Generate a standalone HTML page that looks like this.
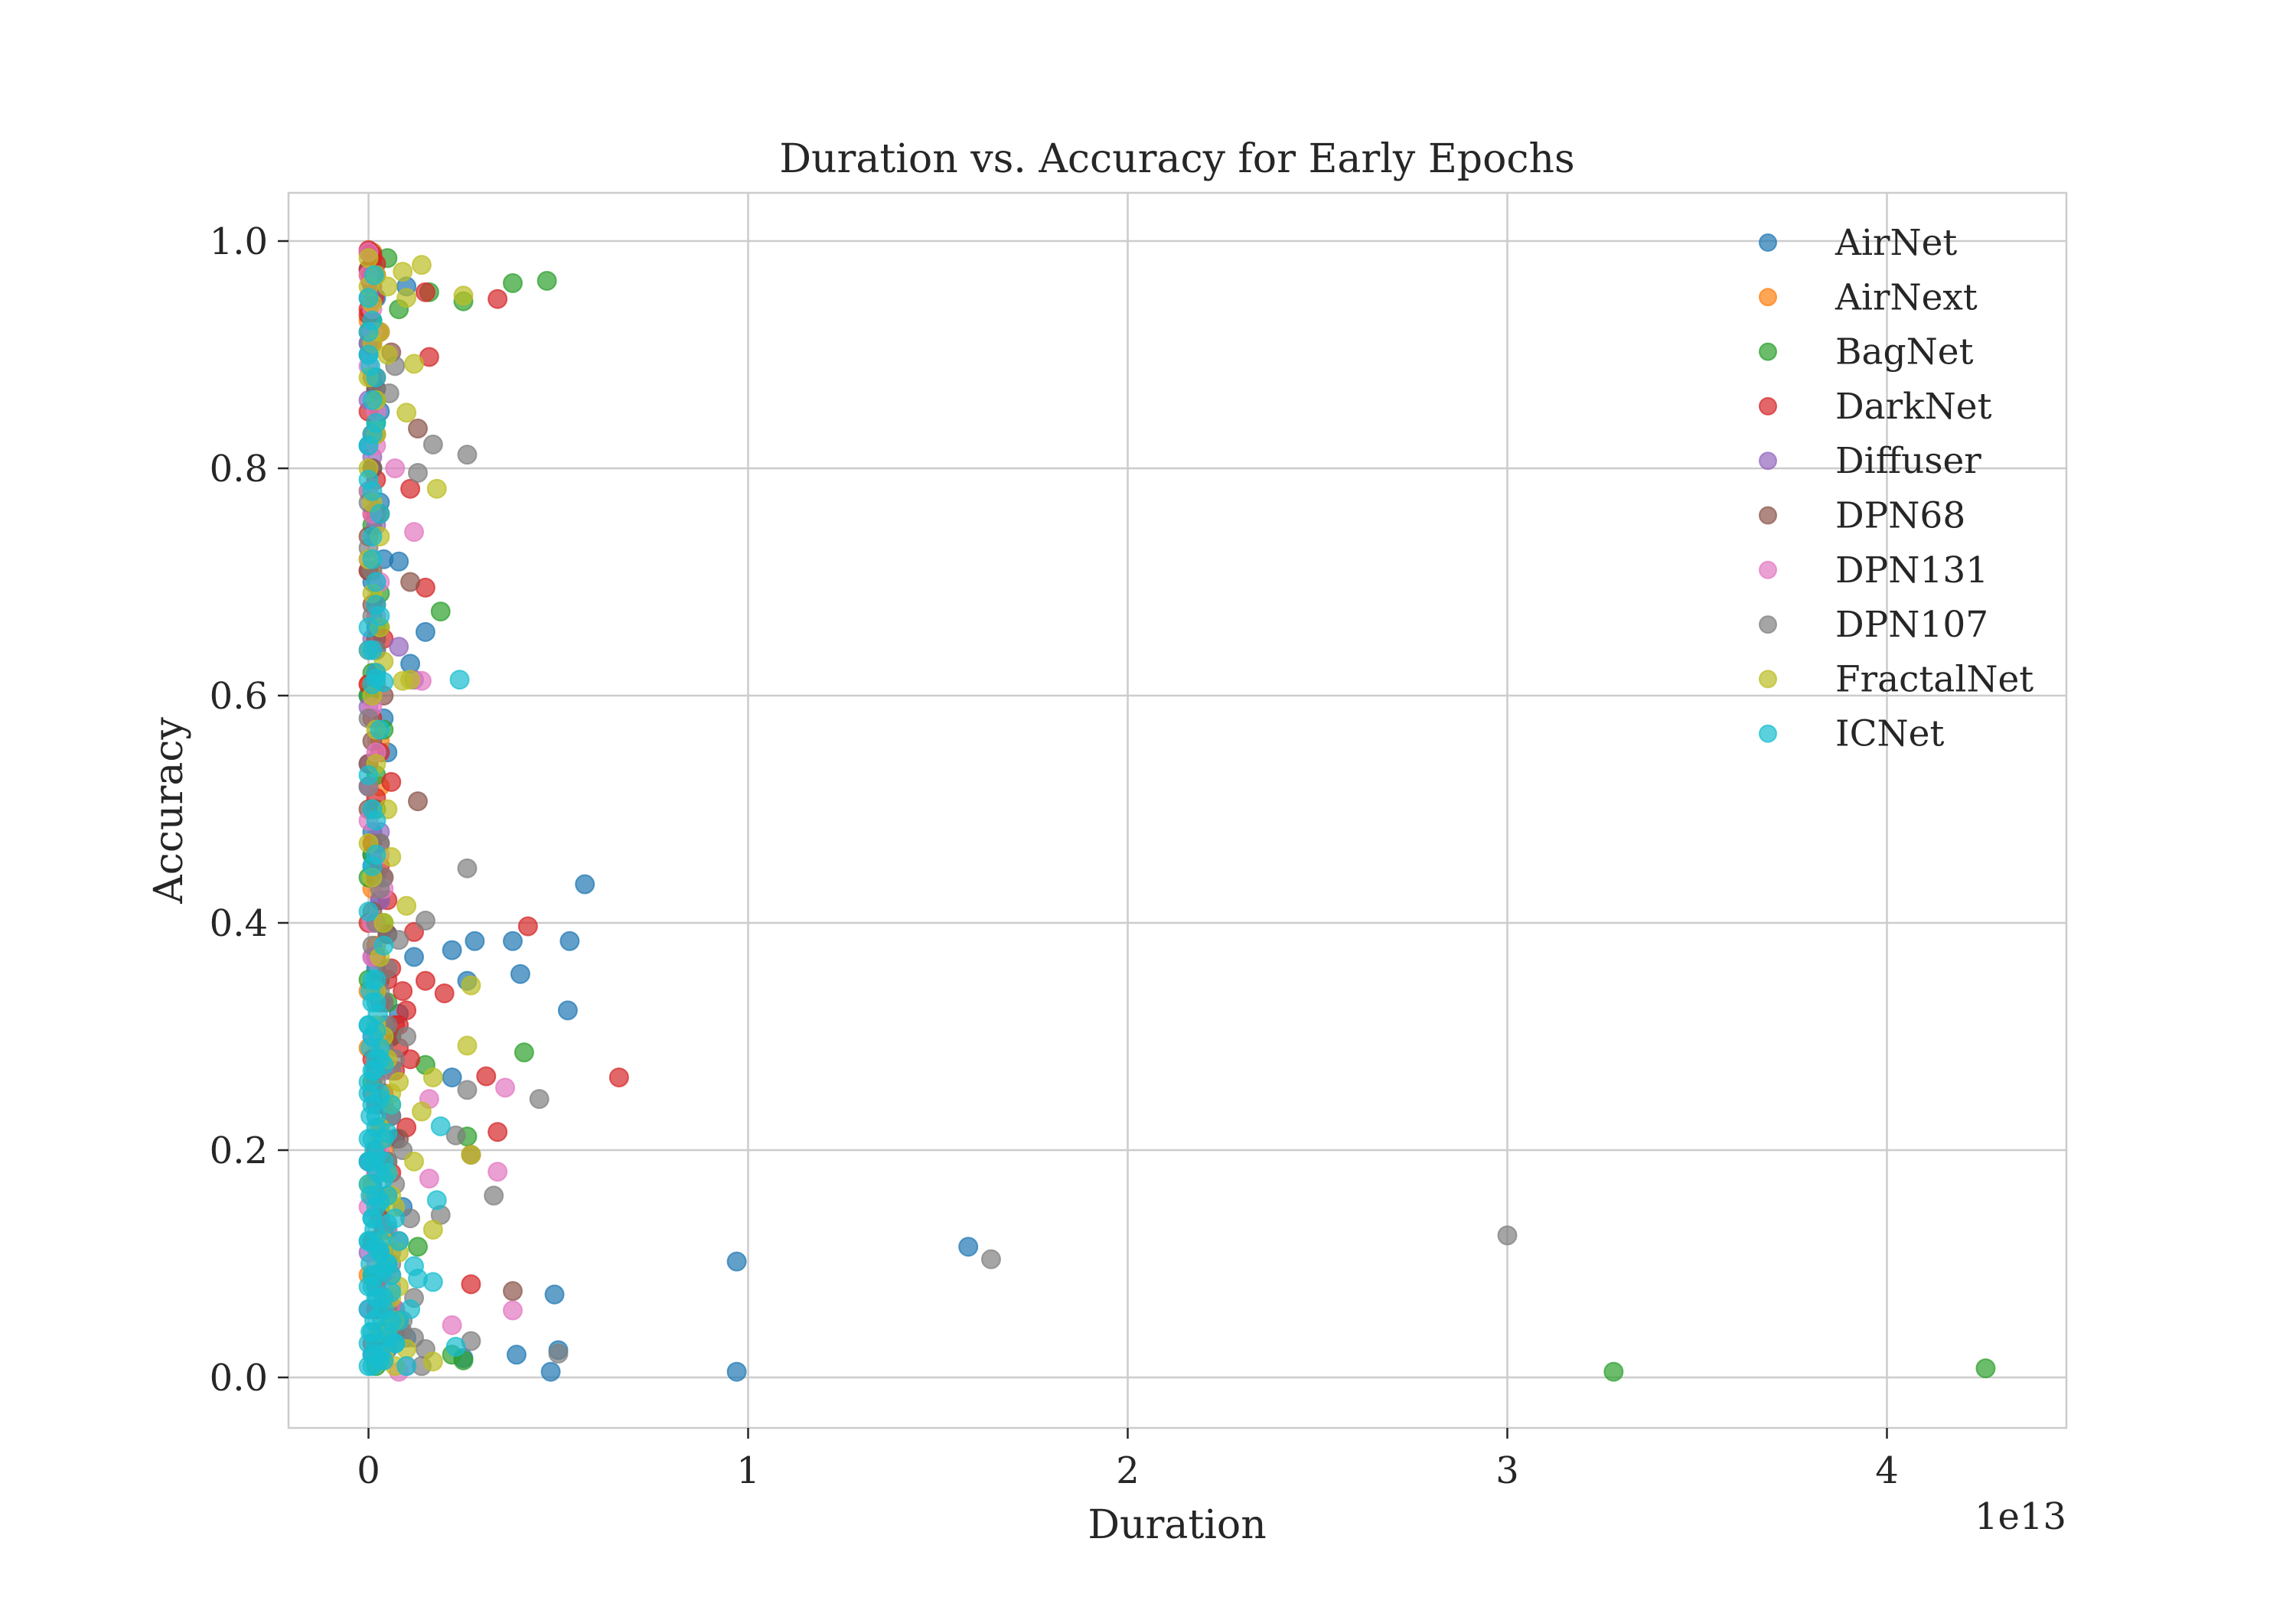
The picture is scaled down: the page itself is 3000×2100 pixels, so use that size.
<!DOCTYPE html>
<html><head><meta charset="utf-8"><style>
html,body{margin:0;padding:0;background:#fff;}
svg{display:block;font-family:"DejaVu Serif","Liberation Serif",serif;}
</style></head><body>
<svg id="chart" width="3000" height="2100" viewBox="0 0 3000 2100" xmlns="http://www.w3.org/2000/svg">
<rect width="3000" height="2100" fill="#fff"/>
<g id="grid"></g>
<g id="marks"></g>
<rect x="377" y="252" width="2323" height="1614" fill="none" stroke="#cccccc" stroke-width="2.5"/>
<g id="axes"></g>
<text x="1538" y="225" text-anchor="middle" font-size="52" fill="#262626">Duration vs. Accuracy for Early Epochs</text>
<text x="1538" y="2010" text-anchor="middle" font-size="52" fill="#262626">Duration</text>
<text x="2700" y="1998" text-anchor="end" font-size="48" fill="#262626">1e13</text>
<text transform="translate(238,1059) rotate(-90)" text-anchor="middle" font-size="52" fill="#262626">Accuracy</text>
<g id="legend"></g>
</svg>
<script>
const xTicks=[0,1,2,3,4];
const yTicks=[0,0.2,0.4,0.6,0.8,1.0];
const yTickLabels=["0.0","0.2","0.4","0.6","0.8","1.0"];
const seriesNames=["AirNet","AirNext","BagNet","DarkNet","Diffuser","DPN68","DPN131","DPN107","FractalNet","ICNet"];
const seriesColors=["#1f77b4","#ff7f0e","#2ca02c","#d62728","#9467bd","#8c564b","#e377c2","#7f7f7f","#bcbd22","#17becf"];
// durations in units of 1e13
const airnetX=[0.97,0.97,1.58,0.57,0.53,0.38,0.28,0.40,0.525,0.22,0.26,0.12,0.22,0.49,0.50,0.48,0.39,0.25,0.15,0.11,0.08,0.01,0.02,0.00,0.03,0.01,0.04,0.02,0.00,0.05,0.01,0.03,0.02,0.06,0.01,0.00,0.04,0.02,0.03,0.01,0.07,0.10,
0.00,0.01,0.02,0.00,0.03,0.01,0.02,0.04,0.00,0.01,0.05,0.02,0.08,0.03,0.06,0.01,0.09,0.04,0.02,0.07,0.10,0.05,0.03,0.01];
const airnetY=[0.102,0.005,0.115,0.434,0.384,0.384,0.384,0.355,0.323,0.376,0.349,0.37,0.264,0.073,0.024,0.005,0.02,0.017,0.656,0.628,0.718,0.99,0.95,0.90,0.85,0.80,0.72,0.66,0.60,0.55,0.48,0.42,0.36,0.30,0.25,0.19,0.13,0.08,0.04,0.02,0.21,0.96,
0.975,0.93,0.87,0.82,0.77,0.70,0.64,0.58,0.52,0.46,0.39,0.34,0.32,0.28,0.23,0.17,0.15,0.11,0.09,0.06,0.035,0.025,0.015,0.45];
const airnextX=[0.00,0.01,0.02,0.00,0.03,0.01,0.02,0.00,0.04,0.01,0.02,0.03,0.01,0.00,0.02,0.01,0.00,0.03,0.01,0.00,0.02,0.01,0.00,0.02];
const airnextY=[0.97,0.88,0.76,0.64,0.56,0.47,0.38,0.29,0.20,0.12,0.06,0.03,0.99,0.93,0.83,0.71,0.61,0.52,0.43,0.34,0.25,0.16,0.09,0.015];
const bagnetX=[3.28,4.26,0.47,0.38,0.25,0.16,0.19,0.41,0.26,0.05,0.13,0.15,0.01,0.02,0.00,0.03,0.01,0.04,0.02,0.00,0.05,0.01,0.03,0.25,0.22,0.08,
0.01,0.00,0.02,0.01,0.03,0.00,0.02,0.01,0.04,0.00,0.06,0.02,0.03,0.05,0.01,0.08,0.04,0.02];
const bagnetY=[0.005,0.008,0.965,0.963,0.947,0.955,0.674,0.286,0.212,0.985,0.115,0.275,0.93,0.86,0.78,0.69,0.62,0.57,0.50,0.44,0.33,0.26,0.15,0.015,0.02,0.94,
0.98,0.91,0.84,0.75,0.66,0.60,0.53,0.46,0.40,0.35,0.30,0.24,0.19,0.13,0.09,0.05,0.03,0.01];
const darknetX=[0.66,0.34,0.16,0.15,0.11,0.15,0.42,0.34,0.31,0.27,0.20,0.15,0.06,0.12,0.10,0.00,0.01,0.00,0.02,0.01,0.00,0.03,0.01,0.02,0.00,0.04,0.01,0.02,0.03,0.00,0.05,0.01,0.08,0.09,0.11,0.05,
0.00,0.01,0.02,0.005,0.015,0.00,0.01,0.02,0.00,0.01,0.02,0.00,0.03,0.01,0.05,0.02,0.07,0.04,0.10,0.06,0.03,0.05,0.02,0.01,
0.03,0.05,0.07,0.04,0.06,0.08,0.02,0.04];
const darknetY=[0.264,0.949,0.898,0.955,0.782,0.695,0.397,0.216,0.265,0.082,0.338,0.349,0.524,0.392,0.323,0.99,0.985,0.975,0.97,0.96,0.94,0.92,0.83,0.79,0.71,0.65,0.58,0.51,0.45,0.40,0.35,0.28,0.29,0.34,0.28,0.07,
0.992,0.988,0.98,0.965,0.95,0.935,0.91,0.88,0.85,0.76,0.68,0.61,0.55,0.47,0.42,0.37,0.31,0.25,0.22,0.18,0.14,0.10,0.06,0.03,
0.33,0.30,0.27,0.24,0.36,0.31,0.20,0.44];
const diffuserX=[0.08,0.12,0.00,0.01,0.02,0.00,0.03,0.01,0.02,0.00,0.01,0.00,0.02,0.01,0.00,0.03,0.01,0.02,0.00];
const diffuserY=[0.643,0.614,0.91,0.81,0.70,0.59,0.48,0.37,0.24,0.11,0.96,0.86,0.75,0.65,0.54,0.42,0.30,0.18,0.06];
const dpn68X=[0.38,0.13,0.27,0.11,0.13,0.06,0.00,0.01,0.02,0.00,0.03,0.01,0.04,0.02,0.05,0.01,0.07,0.03,
0.01,0.00,0.02,0.01,0.03,0.00,0.02,0.04,0.01,0.00,0.02,0.05,0.03,0.06,0.04,0.08,0.05,0.03,0.07];
const dpn68Y=[0.076,0.507,0.196,0.70,0.835,0.902,0.74,0.68,0.62,0.54,0.47,0.41,0.33,0.27,0.19,0.12,0.06,0.03,
0.97,0.92,0.87,0.80,0.76,0.71,0.65,0.60,0.56,0.50,0.44,0.39,0.35,0.30,0.24,0.21,0.16,0.09,0.04];
const dpn131X=[0.36,0.34,0.38,0.22,0.16,0.12,0.14,0.16,0.07,0.00,0.01,0.02,0.00,0.03,0.01,0.02,0.00,0.04,0.01,0.02,0.03,0.00,0.06,0.08,
0.00,0.01,0.00,0.02,0.01,0.00,0.02,0.01,0.00,0.03,0.01,0.02,0.04,0.03,0.05,0.02,0.07,0.04,0.10];
const dpn131Y=[0.255,0.181,0.059,0.046,0.245,0.744,0.613,0.175,0.80,0.97,0.92,0.85,0.78,0.70,0.64,0.55,0.49,0.43,0.37,0.30,0.22,0.15,0.08,0.005,
0.99,0.94,0.89,0.82,0.76,0.72,0.67,0.59,0.52,0.46,0.40,0.34,0.27,0.20,0.13,0.10,0.06,0.02,0.01];
const dpn107X=[3.0,1.64,0.45,0.33,0.50,0.26,0.17,0.26,0.15,0.26,0.23,0.19,0.27,0.13,0.07,0.055,0.00,0.01,0.02,0.00,0.03,0.01,0.04,0.02,0.05,0.06,0.09,0.12,0.15,0.08,0.10,
0.00,0.01,0.02,0.00,0.01,0.02,0.00,0.01,0.03,0.02,0.05,0.04,0.07,0.06,0.09,0.05,0.11,0.08,0.06,0.12,0.09,0.07,0.04,0.14,
0.03,0.05,0.04,0.06,0.03,0.05,0.07,0.04,0.06,0.02,0.05,0.08,0.03,0.04];
const dpn107Y=[0.125,0.104,0.245,0.16,0.021,0.812,0.821,0.448,0.402,0.253,0.213,0.143,0.032,0.796,0.89,0.866,0.73,0.67,0.61,0.52,0.47,0.38,0.33,0.26,0.18,0.10,0.04,0.035,0.025,0.385,0.30,
0.95,0.88,0.83,0.77,0.71,0.64,0.58,0.50,0.43,0.40,0.36,0.31,0.28,0.23,0.20,0.16,0.14,0.12,0.09,0.07,0.05,0.03,0.015,0.01,
0.34,0.31,0.29,0.27,0.22,0.19,0.17,0.13,0.11,0.08,0.06,0.05,0.02,0.44];
const fractalX=[0.27,0.26,0.27,0.18,0.12,0.14,0.25,0.09,0.10,0.17,0.14,0.17,0.17,0.11,0.09,0.06,0.10,0.00,0.01,0.02,0.00,0.03,0.01,0.04,0.02,0.05,0.01,0.03,0.02,0.06,0.00,0.08,0.07,0.04,0.05,0.10,0.12,0.08,
0.00,0.02,0.01,0.03,0.00,0.02,0.01,0.00,0.03,0.01,0.02,0.00,0.04,0.02,0.05,0.03,0.06,0.04,0.08,0.05,0.10,0.07,
0.04,0.06,0.03,0.05,0.07,0.04,0.06,0.03,0.05];
const fractalY=[0.345,0.292,0.196,0.782,0.892,0.979,0.952,0.973,0.849,0.264,0.234,0.13,0.014,0.614,0.613,0.458,0.415,0.96,0.91,0.86,0.80,0.74,0.69,0.63,0.57,0.50,0.44,0.37,0.31,0.24,0.17,0.11,0.05,0.02,0.96,0.95,0.19,0.26,
0.985,0.97,0.945,0.92,0.88,0.83,0.77,0.72,0.66,0.60,0.54,0.47,0.40,0.34,0.28,0.22,0.16,0.12,0.08,0.045,0.025,0.01,
0.30,0.25,0.21,0.18,0.15,0.10,0.07,0.04,0.90];
const icnetX=[0.24,0.19,0.18,0.17,0.23,0.12,0.13,0.00,0.01,0.00,0.02,0.01,0.00,0.03,0.01,0.02,0.00,0.01,0.03,0.00,0.02,0.01,0.00,0.04,0.01,0.02,0.00,0.03,0.01,0.00,0.02,0.01,0.00,0.05,0.02,0.01,0.00,0.03,0.01,0.00,0.02,0.04,0.06,0.01,0.00,0.02,0.07,0.10,0.03,0.05,0.08,0.11,0.01,
0.00,0.01,0.02,0.005,0.015,0.00,0.025,0.01,0.02,0.005,0.03,0.00,0.015,0.01,0.02,0.005,0.00,0.025,0.01,0.015,0.00,0.02,0.005,0.01,0.03,0.00,0.015,0.02,0.005,0.01,0.00,0.025,0.01,0.005,0.02,0.04,0.05,0.03,0.06,0.04,0.02,0.05,0.03,0.04,0.02,0.05,0.03,0.04,0.02,0.02,0.04,0.01,0.00,0.02,0.01,0.00,0.01,0.00,0.01,0.02,
0.03,0.05,0.04,0.06,0.03,0.07,0.05,0.04,0.06,0.08,0.03,0.05,0.07,0.04,0.02,0.03,0.01,0.02,0.015,0.005];
const icnetY=[0.614,0.221,0.156,0.084,0.027,0.098,0.087,0.95,0.93,0.90,0.88,0.83,0.79,0.76,0.72,0.68,0.64,0.61,0.57,0.53,0.49,0.45,0.41,0.38,0.35,0.33,0.31,0.29,0.27,0.25,0.23,0.21,0.19,0.18,0.16,0.14,0.12,0.11,0.09,0.08,0.07,0.06,0.05,0.04,0.03,0.02,0.03,0.01,0.015,0.10,0.12,0.06,0.01,
0.01,0.02,0.03,0.04,0.05,0.06,0.07,0.08,0.09,0.10,0.11,0.12,0.13,0.14,0.15,0.16,0.17,0.18,0.19,0.20,0.21,0.22,0.23,0.24,0.25,0.26,0.27,0.28,0.29,0.30,0.31,0.32,0.33,0.34,0.35,0.015,0.035,0.055,0.075,0.095,0.115,0.135,0.155,0.175,0.195,0.215,0.245,0.275,0.305,0.615,0.612,0.64,0.66,0.70,0.74,0.82,0.86,0.92,0.50,0.46,
0.02,0.04,0.07,0.09,0.12,0.14,0.16,0.19,0.24,0.05,0.28,0.10,0.03,0.21,0.62,0.67,0.78,0.84,0.97,0.89];
const allX=[airnetX,airnextX,bagnetX,darknetX,diffuserX,dpn68X,dpn131X,dpn107X,fractalX,icnetX];
const allY=[airnetY,airnextY,bagnetY,darknetY,diffuserY,dpn68Y,dpn131Y,dpn107Y,fractalY,icnetY];

const NS="http://www.w3.org/2000/svg";
const X0=481.5, XS=496, Y0=1800, YS=1485;
function sx(v){return X0+v*XS;}
function sy(v){return Y0-v*YS;}
function mk(tag,attrs,parent){const e=document.createElementNS(NS,tag);for(const k in attrs)e.setAttribute(k,attrs[k]);parent.appendChild(e);return e;}
const grid=document.getElementById('grid'),axes=document.getElementById('axes'),marks=document.getElementById('marks'),legend=document.getElementById('legend');
xTicks.forEach(function(t){
  const g=mk('line',{x1:sx(t),x2:sx(t),y1:252,y2:1866,stroke:'#cccccc','stroke-width':2.5},grid);
  
  
  const tk=mk('line',{x1:sx(t),x2:sx(t),y1:1866,y2:1880,stroke:'#262626','stroke-width':2.5},axes);
  
  
  const tl=mk('text',{x:sx(t),y:1938,'text-anchor':'middle','font-size':48,fill:'#262626'},axes);
  
  
  tl.textContent=String(t);
});
yTicks.forEach(function(t,i){
  const g=mk('line',{x1:377,x2:2700,y1:sy(t),y2:sy(t),stroke:'#cccccc','stroke-width':2.5},grid);
  
  
  const tk=mk('line',{x1:363,x2:377,y1:sy(t),y2:sy(t),stroke:'#262626','stroke-width':2.5},axes);
  
  
  const tl=mk('text',{x:350,y:sy(t)+17,'text-anchor':'end','font-size':48,fill:'#262626'},axes);
  
  
  tl.textContent=yTickLabels[i];
});
allX.forEach(function(xs,s){
  const ys=allY[s];
  xs.forEach(function(xv,i){
    const c=mk('circle',{cx:sx(xv),cy:sy(ys[i]),r:12,fill:seriesColors[s],'fill-opacity':0.7,stroke:seriesColors[s],'stroke-opacity':0.7,'stroke-width':2},marks);
    
    
  });
});
seriesNames.forEach(function(n,i){
  const y=317+i*71.3;
  const c=mk('circle',{cx:2310,cy:y,r:11,fill:seriesColors[i],'fill-opacity':0.7,stroke:seriesColors[i],'stroke-opacity':0.7,'stroke-width':2},legend);
  
  
  const t=mk('text',{x:2398,y:y+16,'font-size':47,fill:'#262626'},legend);
  
  
  t.textContent=n;
});
</script>
</body></html>
